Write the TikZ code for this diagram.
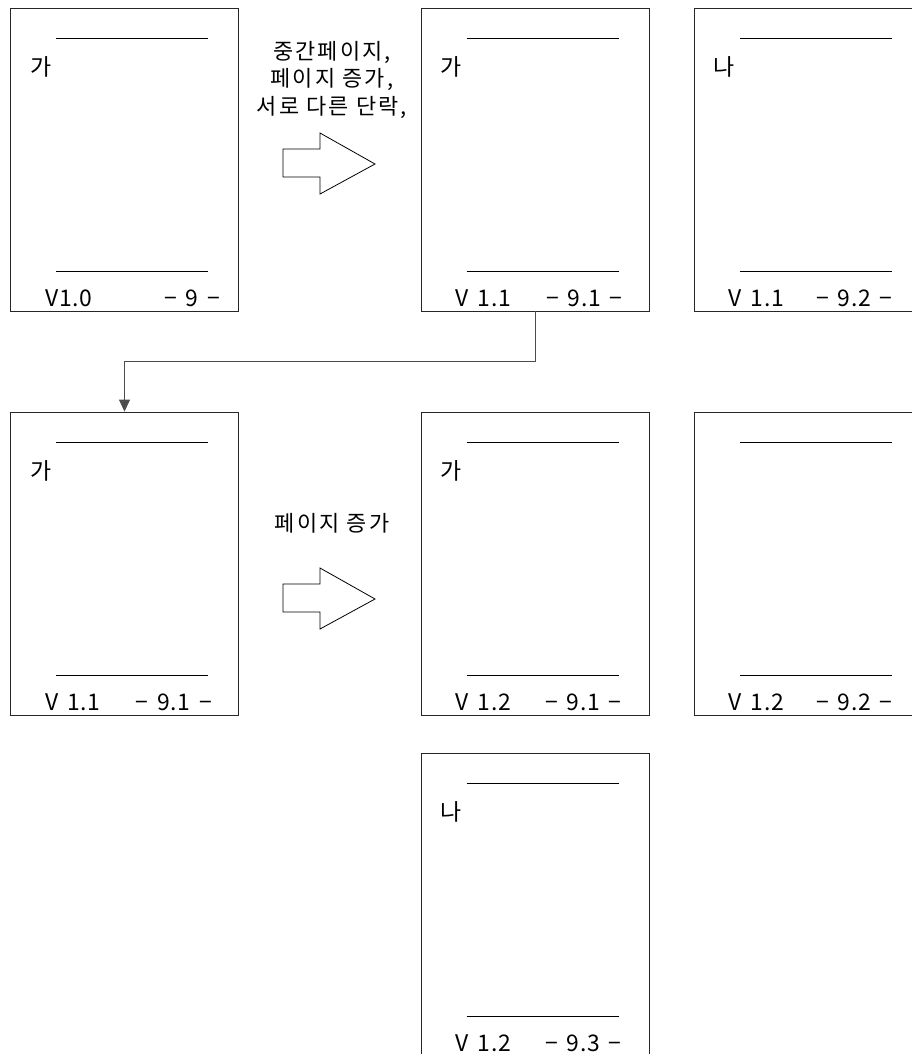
\documentclass[tikz,border=0pt]{standalone}
\usepackage{fontspec}
\setmainfont{Noto Sans CJK KR}
\newfontfamily\labelfont[LetterSpace=10]{Noto Sans CJK KR}
\newfontfamily\footfont[WordSpace=1.5, LetterSpace=3]{Noto Sans CJK KR}
\usetikzlibrary{arrows.meta}
\tikzset{
  page/.style={draw=black!85, line width=0.8bp, minimum width=228bp,
    minimum height=303bp, inner sep=0pt},
  rule/.style={line width=0.8bp},
  pagetext/.style={font=\footfont\fontsize{23}{26}\selectfont, inner sep=0pt},
  steptext/.style={font=\labelfont\fontsize{22}{28}\selectfont, inner sep=0pt,
    align=center},
  bigarrow/.style={draw, line width=0.8bp, fill=white, line join=miter},
}
\newcommand\pagebody[5]{%
  \begin{scope}[shift={(#1.north west)}]
    \draw[rule] (46,31) -- (198,31);
    \draw[rule] (46,264) -- (198,264);
    \node[pagetext, anchor=west] (#1-mark) at (20,59) {#2};
    \node[pagetext, anchor=base west] (#1-ver) at (35,299) {#3};
    \node[pagetext, anchor=base east] (#1-no) at (#5,299) {#4};
  \end{scope}}
\begin{document}
\begin{tikzpicture}[x=1bp, y=-1bp, >=Triangle]
  \useasboundingbox (0,0) rectangle (912,1054);
  \clip (0,0) rectangle (912,1054);
  \node[page] (p1) at (124.5,159.5) {};
  \node[page] (p2) at (535,159.5) {};
  \node[page] (p3) at (808,159.5) {};
  \node[page] (p4) at (124.5,563.5) {};
  \node[page] (p5) at (535,563.5) {};
  \node[page] (p6) at (808,563.5) {};
  \node[page] (p7) at (535,904.5) {};
  \pagebody{p1}{가}{V1.0}{− 9 −}{210}
  \pagebody{p2}{가}{V 1.1}{− 9.1 −}{202}
  \pagebody{p3}{나}{V 1.1}{− 9.2 −}{199}
  \pagebody{p4}{가}{V 1.1}{− 9.1 −}{202}
  \pagebody{p5}{가}{V 1.2}{− 9.1 −}{201}
  \pagebody{p6}{}{V 1.2}{− 9.2 −}{199}
  \pagebody{p7}{나}{V 1.2}{− 9.3 −}{201}
  \draw[bigarrow] (283,149) -- (320,149) -- (320,133) -- (375,164)
    -- (320,194) -- (320,177) -- (283,177) -- cycle;
  \draw[bigarrow, shift={(0,435)}] (283,149) -- (320,149) -- (320,133)
    -- (375,164) -- (320,194) -- (320,177) -- (283,177) -- cycle;
  \node[steptext] (step1) at (332,80) {중간페이지,\\페이지 증가,\\서로 다른 단락,};
  \node[steptext] (step2) at (332,523) {페이지 증가};
  \draw[black!70, line width=0.8bp, -{Triangle[length=12bp, width=11bp]}]
    (p2.south) -- ++(0,50) -| (p4.north);
\end{tikzpicture}
\end{document}
